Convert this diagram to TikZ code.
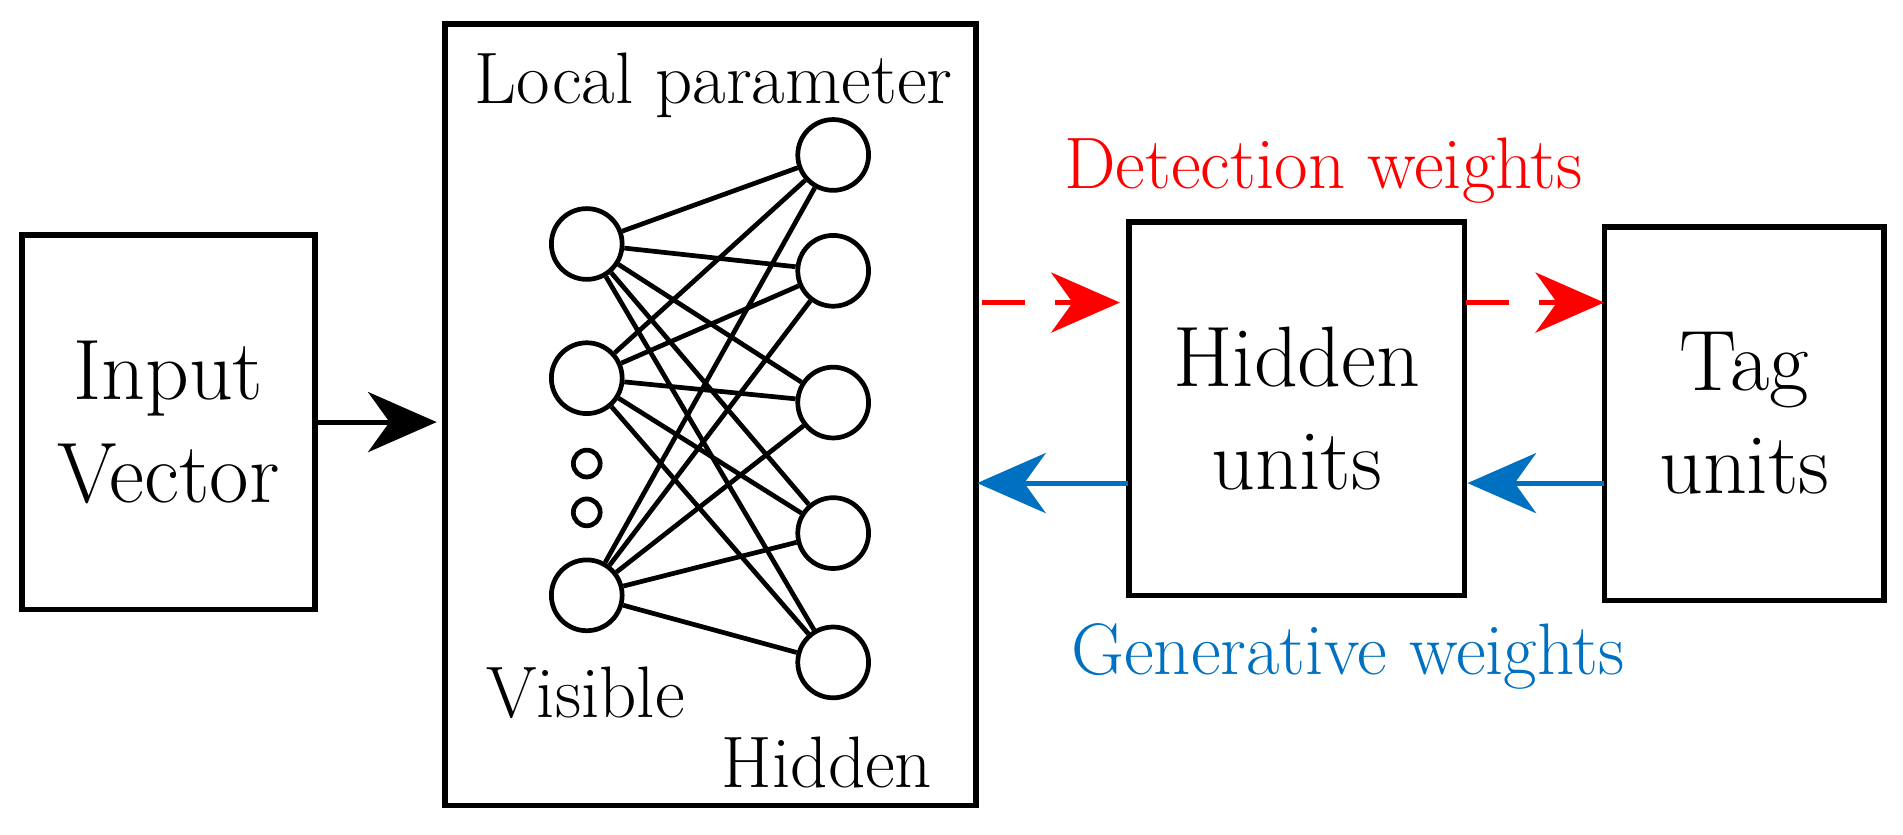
\documentclass[tikz,border=0pt]{standalone}
\usetikzlibrary{arrows.meta}
\begin{document}
\begin{tikzpicture}[x=0.01cm,y=-0.01cm,
  box/.style={draw,line width=1.3pt,inner sep=0pt},
  unit/.style={draw,circle,line width=1.1pt,minimum size=0.58cm,inner sep=0pt},
  dot/.style={draw,circle,line width=1.1pt,minimum size=0.22cm,inner sep=0pt},
  txt/.style={font=\fontsize{17}{20}\selectfont,align=center},
  big/.style={font=\fontsize{20}{24}\selectfont,align=center},
  link/.style={line width=1.1pt},
  fwd/.style={line width=1.2pt,dashed,dash pattern=on 10pt off 7pt,red,-{Stealth[length=16pt,width=14pt,inset=5pt]}},
  bwd/.style={line width=1.2pt,-{Stealth[length=16pt,width=14pt,inset=5pt]}}]
\useasboundingbox (0,0) rectangle (1560,684);
\definecolor{genblue}{RGB}{0,112,192}
\node[box,minimum width=2.4cm,minimum height=3.07cm] (input) at (138,346) {};
\node[big] at (input) {Input\\Vector};
\node[box,minimum width=4.35cm,minimum height=6.4cm] (rbm) at (582.5,340) {};
\node[box,minimum width=2.75cm,minimum height=3.06cm] (hid) at (1063,335) {};
\node[big] at (hid) {Hidden\\units};
\node[box,minimum width=2.29cm,minimum height=3.06cm] (tag) at (1430,339) {};
\node[big] at (tag) {Tag\\units};
% visible and hidden layers
\foreach \i/\y in {1/200,2/310,3/488} \node[unit] (v\i) at (481,\y) {};
\node[dot] (d1) at (481,380) {};
\node[dot] (d2) at (481,420) {};
\foreach \j/\y in {1/127,2/222,3/330,4/437,5/543} \node[unit] (h\j) at (683,\y) {};
\foreach \i in {1,2,3}
  \foreach \j in {1,...,5}
    \draw[link] (v\i) -- (h\j);
\node[txt] at (585,70) {Local parameter};
\node[txt] at (480,568) {Visible};
\node[txt] at (678,625) {Hidden};
% connectors
\coordinate (a1) at (258,346);
\coordinate (a2) at (358,346);
\draw[bwd] (a1) -- (a2);
\coordinate (r1) at (805,248);
\coordinate (r2) at (918,248);
\coordinate (r3) at (1202,248);
\coordinate (r4) at (1315,248);
\draw[fwd] (r1) -- (r2);
\draw[fwd] (r3) -- (r4);
\coordinate (b1) at (925,396);
\coordinate (b2) at (801,396);
\coordinate (b3) at (1315,396);
\coordinate (b4) at (1203,396);
\draw[bwd,genblue] (b1) -- (b2);
\draw[bwd,genblue] (b3) -- (b4);
\node[txt,red] at (1085,140) {Detection weights};
\node[txt,genblue] at (1105,538) {Generative weights};
\end{tikzpicture}
\end{document}
